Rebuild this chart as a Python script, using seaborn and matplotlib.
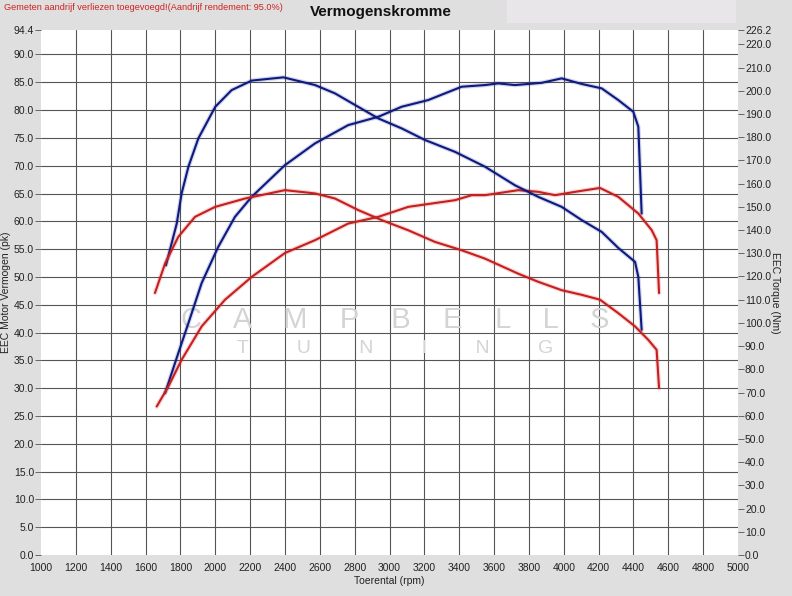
import numpy as np
import matplotlib
matplotlib.use("Agg")
import matplotlib.pyplot as plt
import matplotlib.patheffects as pe
import pandas as pd
import seaborn as sns

sns.set_theme(style="white")
plt.rcParams['font.family'] = ['Liberation Sans', 'DejaVu Sans']

# tuned power (pk) and torque (Nm) - blue
blue_pwr_rpm = [1712, 1788, 1846, 1922, 2017, 2113, 2209, 2400, 2572, 2763, 2936, 3070,
                3222, 3414, 3548, 3624, 3720, 3873, 3988, 4103, 4218, 4313, 4399, 4428, 4447]
blue_pwr = [29.1, 36.3, 41.7, 48.9, 55.4, 60.8, 64.4, 70.1, 74.0, 77.3, 78.8, 80.6,
            81.8, 84.2, 84.5, 84.8, 84.5, 84.9, 85.7, 84.7, 83.9, 81.8, 79.7, 77.0, 61.4]
blue_trq_rpm = [1717, 1779, 1807, 1846, 1903, 2000, 2094, 2209, 2391, 2572, 2687, 2802, 2936,
                3070, 3204, 3376, 3548, 3720, 3854, 3988, 4103, 4218, 4313, 4409, 4428, 4447]
blue_trq = [124.8, 142.8, 155.8, 167.3, 179.5, 193.1, 200.3, 204.4, 205.8, 202.5, 198.9, 193.9, 188.1,
            183.8, 178.8, 173.7, 167.3, 159.3, 154.3, 150.0, 144.3, 139.2, 132.3, 126.3, 119.8, 97.0]

# stock power (pk) and torque (Nm) - red
red_pwr_rpm = [1664, 1731, 1807, 1922, 2056, 2209, 2400, 2572, 2763, 2936, 3108, 3242, 3376,
               3472, 3548, 3739, 3854, 3950, 4065, 4208, 4313, 4428, 4505, 4533, 4547]
red_pwr = [26.7, 30.3, 35.1, 41.1, 45.9, 50.0, 54.3, 56.6, 59.6, 60.8, 62.6, 63.2, 63.8,
           64.7, 64.7, 65.6, 65.3, 64.7, 65.3, 66.0, 64.4, 61.4, 58.4, 56.6, 47.1]
red_trq_rpm = [1654, 1712, 1788, 1884, 2000, 2171, 2400, 2572, 2687, 2821, 2955, 3108, 3261,
               3414, 3548, 3739, 3854, 3988, 4103, 4208, 4313, 4409, 4485, 4533, 4547]
red_trq = [112.9, 125.6, 137.1, 145.7, 150.0, 153.6, 157.2, 155.8, 153.6, 148.6, 144.3, 139.9, 134.9,
           131.3, 127.7, 121.2, 117.7, 114.1, 112.1, 110.0, 104.2, 98.5, 92.7, 88.4, 71.9]

pk_max = 94.4
nm_max = 226.2
x_ticks = list(range(1000, 5001, 200))

bg = '#dfdfdf'
fig = plt.figure(figsize=(7.92, 5.96), dpi=100, facecolor=bg)
ax = fig.add_axes([41 / 792, 1 - 555 / 596, 697 / 792, 525 / 596])
ax2 = ax.twinx()

navy = '#0d1a80'
red = '#c81e1e'

def draw(a, xs, ys, col):
    df = pd.DataFrame({'rpm': xs, 'v': ys})
    sns.lineplot(data=df, x='rpm', y='v', ax=a, color=col, lw=1.5, sort=False, estimator=None,
                 path_effects=[pe.Stroke(linewidth=3.2, foreground=col, alpha=0.18), pe.Normal()])

draw(ax, blue_pwr_rpm, blue_pwr, navy)
draw(ax, red_pwr_rpm, red_pwr, red)
draw(ax2, blue_trq_rpm, blue_trq, navy)
draw(ax2, red_trq_rpm, red_trq, red)

ax.set_xlim(1000, 5000)
ax.set_ylim(0, pk_max)
ax2.set_ylim(0, nm_max)

ax.set_xticks(x_ticks)
ax.set_xticklabels([str(t) for t in x_ticks])
ax.set_yticks(list(np.arange(0, 90.1, 5)) + [pk_max])
ax.set_yticklabels(['%.1f' % t for t in list(np.arange(0, 90.1, 5)) + [pk_max]])
ax2.set_yticks(list(range(0, 221, 10)) + [nm_max])
ax2.set_yticklabels(['%.1f' % t for t in list(range(0, 221, 10)) + [nm_max]])

for a in (ax, ax2):
    for s in a.spines.values():
        s.set_visible(False)
    a.tick_params(length=4, width=0.7, color='#666666', labelsize=7.5, labelcolor='#222222', pad=1)
ax.tick_params(axis='x', pad=2)

# grid drawn on the power axis
for t in x_ticks[1:-1]:
    ax.axvline(t, color='#555555', lw=0.8, zorder=0)
for t in np.arange(5, 90.1, 5):
    ax.axhline(t, color='#555555', lw=0.8, zorder=0)
ax.set_facecolor('white')

ax.set_xlabel('Toerental (rpm)', fontsize=7.5, color='#222222', labelpad=2)
ax.set_ylabel('EEC Motor Vermogen (pk)', fontsize=7.5, color='#222222', labelpad=2)
ax2.set_ylabel('EEC Torque (Nm)', fontsize=7.5, color='#222222', rotation=270, labelpad=6)

# watermark
ax.text(0.508, 0.447, 'C    A    M    P    B    E    L    L    S', transform=ax.transAxes,
        ha='center', va='center', fontsize=21, color='#d4d4d4', zorder=0.5)
ax.text(0.508, 0.393, 'T         U         N         I         N         G', transform=ax.transAxes,
        ha='center', va='center', fontsize=14, color='#d4d4d4', zorder=0.5)

fig.patches.append(plt.Rectangle((507 / 792, 1 - 22 / 596), 228 / 792, 22 / 596,
                                 transform=fig.transFigure, color='#e8e6e8', zorder=0))
fig.text(381 / 792, 1 - 12 / 596, 'Vermogenskromme', ha='center', va='center',
         fontsize=11, fontweight='bold', color='#111111')
fig.text(4 / 792, 1 - 8 / 596, 'Gemeten aandrijf verliezen toegevoegd!(Aandrijf rendement: 95.0%)',
         ha='left', va='center', fontsize=6.6, color='#d02020')

fig.savefig('out.png', dpi=100, facecolor=bg)
